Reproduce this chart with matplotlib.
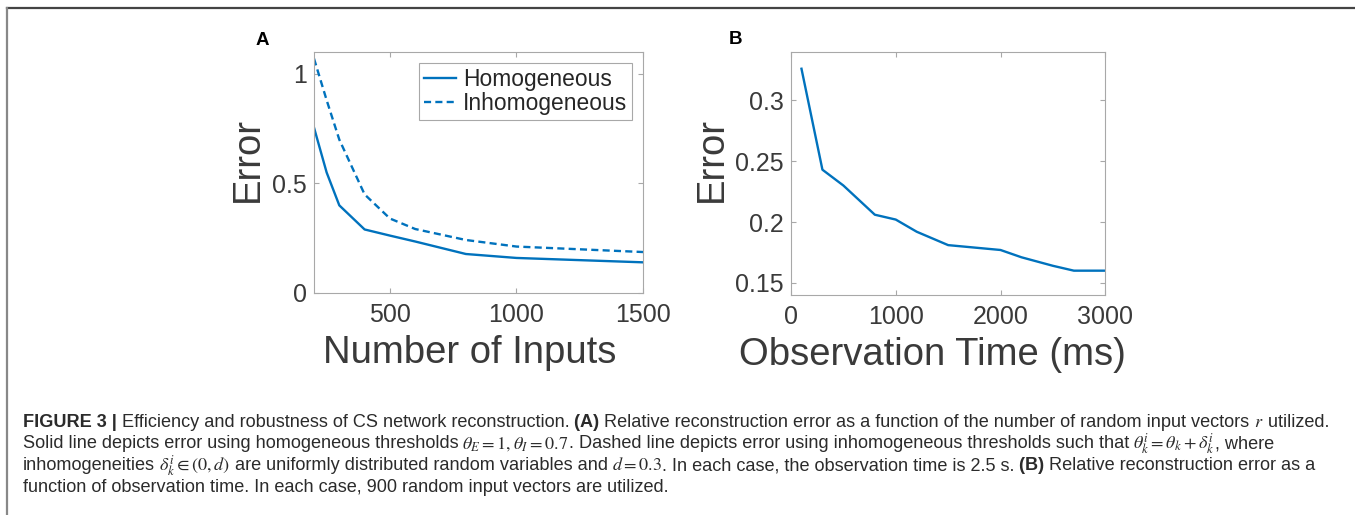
import matplotlib
matplotlib.use('Agg')
import matplotlib.pyplot as plt
from matplotlib.lines import Line2D
from matplotlib.transforms import IdentityTransform

# panel A: error vs number of inputs
n_inputs = [200, 250, 300, 400, 500, 600, 800, 1000, 1500]
err_homog = [0.755, 0.55, 0.40, 0.29, 0.262, 0.235, 0.178, 0.16, 0.14]
err_inhomog = [1.07, 0.88, 0.70, 0.45, 0.34, 0.292, 0.242, 0.212, 0.187]
a_xticks = [500, 1000, 1500]
a_yticks = [0, 0.5, 1]
a_yticklabels = ['0', '0.5', '1']

# panel B: error vs observation time
obs_time = [100, 300, 500, 800, 1000, 1200, 1500, 2000, 2200, 2500, 2700, 3000]
err_time = [0.326, 0.243, 0.230, 0.206, 0.202, 0.192, 0.181, 0.177, 0.171, 0.164, 0.160, 0.160]
b_xticks = [0, 1000, 2000, 3000]
b_yticks = [0.15, 0.2, 0.25, 0.3]
b_yticklabels = ['0.15', '0.2', '0.25', '0.3']

# caption pieces: (text, bold); math pieces kept apart so each text box stays tight
caption_lines = [
    [('FIGURE 3 |', True),
     (' Efficiency and robustness of CS network reconstruction.', False),
     (' (A)', True),
     (' Relative reconstruction error as a function of the number of random input vectors', False),
     (' $r$', False),
     (' utilized.', False)],
    [('Solid line depicts error using homogeneous thresholds', False),
     (' $\\theta_E = 1, \\theta_I = 0.7$', False),
     ('. Dashed line depicts error using inhomogeneous thresholds such that', False),
     (' $\\theta^i_k = \\theta_k + \\delta^i_k$', False),
     (', where', False)],
    [('inhomogeneities', False),
     (' $\\delta^i_k \\in (0, d)$', False),
     (' are uniformly distributed random variables and', False),
     (' $d = 0.3$', False),
     ('. In each case, the observation time is 2.5 s.', False),
     (' (B)', True),
     (' Relative reconstruction error as a', False)],
    [('function of observation time. In each case, 900 random input vectors are utilized.', False)],
]

W, H = 1355, 515
BLUE = '#0072BD'
TXT = '#3a3a3a'
BOX = '#a8a8a8'

plt.rcParams['font.family'] = ['Liberation Sans', 'DejaVu Sans']
plt.rcParams['mathtext.fontset'] = 'stix'

fig = plt.figure(figsize=(W / 100, H / 100), dpi=100)
fig.patch.set_facecolor('white')


def style_axes(ax):
    for s in ax.spines.values():
        s.set_color(BOX)
        s.set_linewidth(0.8)
    ax.tick_params(direction='in', length=3.5, width=0.8, color=BOX,
                   top=True, right=True, labelsize=18, labelcolor=TXT)
    ax.tick_params(axis='x', pad=7)
    ax.tick_params(axis='y', pad=5)


# ---- panel A
axA = fig.add_axes([314 / W, 1 - 293 / H, 329 / W, 241 / H])
axA.plot(n_inputs, err_homog, color=BLUE, lw=1.7, label='Homogeneous')
axA.plot(n_inputs, err_inhomog, color=BLUE, lw=1.7, dashes=(3, 1.8), label='Inhomogeneous')
axA.set_xlim(200, 1500)
axA.set_ylim(0, 1.1)
axA.set_xticks(a_xticks)
axA.set_yticks(a_yticks)
axA.set_yticklabels(a_yticklabels)
style_axes(axA)
leg = axA.legend(loc='upper right', bbox_to_anchor=(0.967, 0.956), borderaxespad=0,
                 fontsize=16.4, frameon=True, fancybox=False, framealpha=1,
                 handlelength=1.4, handletextpad=0.3, labelspacing=0.08, borderpad=0.22)
leg.get_frame().set_edgecolor(BOX)
leg.get_frame().set_linewidth(0.8)
for t in leg.get_texts():
    t.set_color('#262626')
axA.text(-0.2, 0.554, 'Error', rotation=90, ha='center', va='center',
         fontsize=27.5, color=TXT, transform=axA.transAxes)
axA.text(0.474, -0.292, 'Number of Inputs', ha='center', va='baseline',
         fontsize=27.5, color=TXT, transform=axA.transAxes)
fig.text(262 / W, 1 - 45 / H, 'A', fontsize=13.5, fontweight='bold', ha='center', va='baseline')

# ---- panel B
axB = fig.add_axes([791 / W, 1 - 295 / H, 314.3 / W, 243.3 / H])
axB.plot(obs_time, err_time, color=BLUE, lw=1.7)
axB.set_xlim(0, 3000)
axB.set_ylim(0.14, 0.34)
axB.set_xticks(b_xticks)
axB.set_yticks(b_yticks)
axB.set_yticklabels(b_yticklabels)
style_axes(axB)
axB.text(-0.251, 0.557, 'Error', rotation=90, ha='center', va='center',
         fontsize=27.5, color=TXT, transform=axB.transAxes)
axB.text(0.45, -0.288, 'Observation Time (ms)', ha='center', va='baseline',
         fontsize=27.5, color=TXT, transform=axB.transAxes)
fig.text(735 / W, 1 - 44 / H, 'B', fontsize=13.5, fontweight='bold', ha='center', va='baseline')

# ---- frame lines
fig.add_artist(Line2D([7.5 / W, 1], [1 - 8 / H, 1 - 8 / H], color='#444444', lw=1.6))
fig.add_artist(Line2D([7.5 / W, 7.5 / W], [0, 1 - 8 / H], color='#888888', lw=1.6))

# ---- caption
cap_font = ['Liberation Sans Narrow', 'Liberation Sans', 'DejaVu Sans']
cap_color = '#2b2b2b'
renderer = fig.canvas.get_renderer()


def text_w(s, size):
    t = fig.text(0, 0, s, transform=IdentityTransform(), fontsize=size, family=cap_font)
    w = t.get_window_extent(renderer).width
    t.remove()
    return w


def put_parts(x, y, parts, size):
    arts = []
    space_w = text_w('x x', size) - text_w('xx', size)
    for s, bold in parts:
        if '$' in s and s.startswith(' '):
            # math piece: use a normal text space in front of it
            s = s[1:]
            x += space_w - 1.0
        t = fig.text(x, H - y, s, transform=IdentityTransform(), fontsize=size,
                     fontweight='bold' if bold else 'normal', family=cap_font,
                     color=cap_color, va='baseline', ha='left')
        x += t.get_window_extent(renderer).width
        arts.append(t)
    return arts, x


cap_x = 22.7
baselines = [426.7, 448.5, 470.5, 492.5]
# calibrate the size so the first line spans the same width as in the figure
tmp, end = put_parts(cap_x, baselines[0], caption_lines[0], 10)
size = 10 * (1343 - cap_x) / (end - cap_x)
for t in tmp:
    t.remove()
for line, yb in zip(caption_lines, baselines):
    put_parts(cap_x, yb, line, size)

fig.savefig('out.png', dpi=100, facecolor='white')
